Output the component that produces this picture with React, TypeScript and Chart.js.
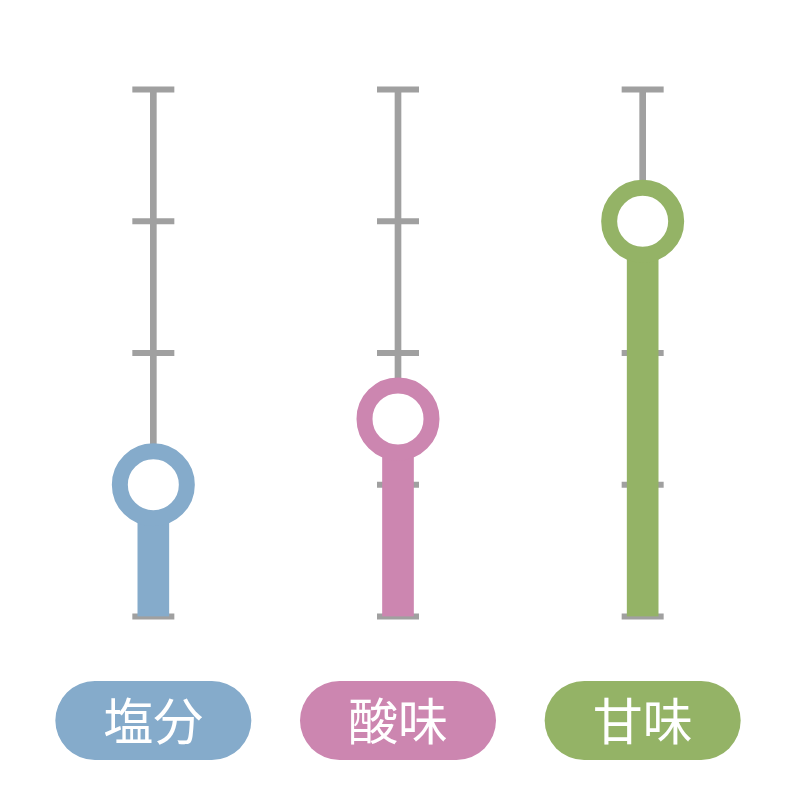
import React, { useEffect, useRef } from "react";
import { Chart, registerables } from "chart.js";

Chart.register(...registerables);

const categories = ["塩分", "酸味", "甘味"];
const values = [1, 1.5, 3];
const tickValues = [0, 1, 2, 3, 4];
const scaleMax = 4;
const colors = ["#85ABCB", "#CC86B0", "#94B366"];
const gray = "#A0A0A0";

const pillPlugin = {
  id: "pills",
  afterDraw(chart: any) {
    const ctx = chart.ctx;
    const xs = chart.scales.x;
    const w = 196;
    const h = 79;
    const cy = 720.5;
    ctx.save();
    categories.forEach((c, i) => {
      const cx = xs.getPixelForValue(i);
      const x0 = cx - w / 2;
      const y0 = cy - h / 2;
      const r = h / 2;
      ctx.beginPath();
      ctx.moveTo(x0 + r, y0);
      ctx.lineTo(x0 + w - r, y0);
      ctx.arc(x0 + w - r, cy, r, -Math.PI / 2, Math.PI / 2);
      ctx.lineTo(x0 + r, y0 + h);
      ctx.arc(x0 + r, cy, r, Math.PI / 2, (3 * Math.PI) / 2);
      ctx.closePath();
      ctx.fillStyle = colors[i];
      ctx.fill();
      ctx.fillStyle = "#ffffff";
      ctx.font = '50px "Noto Sans CJK JP"';
      ctx.textAlign = "center";
      ctx.textBaseline = "middle";
      ctx.fillText(c, cx, cy);
    });
    ctx.restore();
  },
};

export default function App() {
  const ref = useRef<HTMLCanvasElement>(null);
  useEffect(() => {
    if (!ref.current) return;
    const tickPoints: any[] = [];
    categories.forEach((c) => {
      tickValues.forEach((v) => tickPoints.push({ x: c, y: v }));
    });
    const chart = new Chart(ref.current, {
      type: "bar",
      data: {
        labels: categories,
        datasets: [
          {
            type: "line",
            data: values,
            showLine: false,
            pointRadius: 33.5,
            pointHoverRadius: 33.5,
            pointBorderWidth: 16,
            pointHoverBorderWidth: 16,
            pointBackgroundColor: "#ffffff",
            pointBorderColor: colors,
            order: 0,
            clip: false,
          } as any,
          {
            type: "bar",
            data: values,
            backgroundColor: colors,
            barThickness: 31,
            grouped: false,
            order: 1,
          } as any,
          {
            type: "line",
            data: tickPoints,
            showLine: false,
            pointStyle: "line",
            pointRadius: 21,
            pointHoverRadius: 21,
            pointBorderWidth: 6,
            pointHoverBorderWidth: 6,
            pointBorderColor: gray,
            order: 2,
            clip: false,
          } as any,
          {
            type: "bar",
            data: categories.map(() => [0, scaleMax]),
            backgroundColor: gray,
            barThickness: 6,
            grouped: false,
            order: 3,
          } as any,
        ],
      },
      options: {
        responsive: true,
        maintainAspectRatio: false,
        animation: false,
        layout: { autoPadding: false, padding: { left: 31, right: 35, top: 89.5, bottom: 183.5 } },
        plugins: { legend: { display: false }, tooltip: { enabled: false } },
        events: [],
        scales: {
          x: { display: false, offset: true },
          y: { display: false, min: 0, max: scaleMax },
        },
      } as any,
      plugins: [pillPlugin],
    });
    return () => chart.destroy();
  }, []);
  return (
    <div style={{ position: "absolute", left: 0, top: 0, width: 800, height: 800, background: "#ffffff" }}>
      <canvas ref={ref} />
    </div>
  );
}
